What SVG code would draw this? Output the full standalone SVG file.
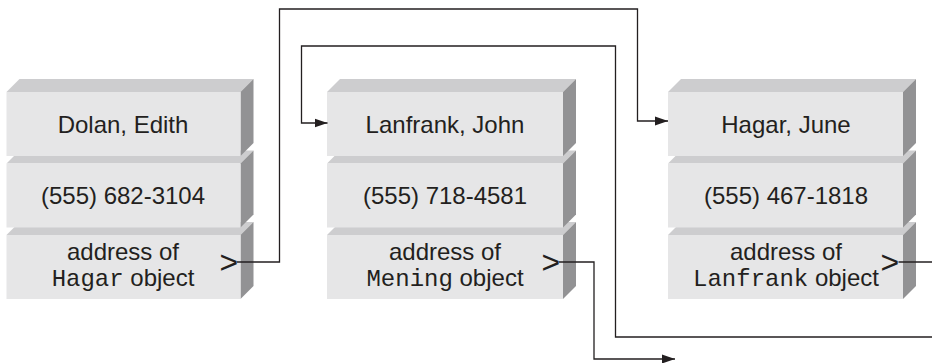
<svg xmlns="http://www.w3.org/2000/svg" width="932" height="363" viewBox="0 0 932 363">
  <style>
    .top { fill: #cdcdcf; }
    .front { fill: #e6e6e7; }
    .side { fill: #929294; }
    .t { font-family: "Liberation Sans", Arial, sans-serif; font-size: 24px; fill: #231f20; text-anchor: middle; }
    .m { font-family: "Liberation Mono", "Courier New", monospace; }
    .ptr { font-family: "Liberation Sans", Arial, sans-serif; font-size: 32px; fill: #231f20; }
    .conn { fill: none; stroke: #231f20; stroke-width: 1.3; }
  </style>
  <defs>
    <marker id="arrow" markerUnits="userSpaceOnUse" markerWidth="14" markerHeight="10" refX="13" refY="5" orient="auto">
      <path d="M0,0.5 L13,5 L0,9.5 Z" fill="#231f20"/>
    </marker>
  </defs>

  <!-- Column 1: Dolan, Edith -->
  <g id="dolan">
    <g id="dolan-address">
      <polygon class="top" points="6.5,235 19.5,222 253.5,222 240.5,235"/>
      <polygon class="side" points="240.5,235 253.5,222 253.5,286 240.5,299"/>
      <rect class="front" x="6.5" y="235" width="234" height="64"/>
      <text class="t" x="123" y="260">address of</text>
      <text class="t" x="123" y="285.5"><tspan class="m">Hagar</tspan> object</text>
      <text class="ptr" x="219.5" y="273.2">&gt;</text>
    </g>
    <g id="dolan-phone">
      <polygon class="top" points="6.5,163.5 19.5,150.5 253.5,150.5 240.5,163.5"/>
      <polygon class="side" points="240.5,163.5 253.5,150.5 253.5,214.5 240.5,227.5"/>
      <rect class="front" x="6.5" y="163.5" width="234" height="64"/>
      <text class="t" x="123" y="203.6">(555) 682-3104</text>
    </g>
    <g id="dolan-name">
      <polygon class="top" points="6.5,92 19.5,79 253.5,79 240.5,92"/>
      <polygon class="side" points="240.5,92 253.5,79 253.5,143 240.5,156"/>
      <rect class="front" x="6.5" y="92" width="234" height="64"/>
      <text class="t" x="123" y="132.8">Dolan, Edith</text>
    </g>
  </g>

  <!-- Column 2: Lanfrank, John -->
  <g id="lanfrank">
    <g id="lanfrank-address">
      <polygon class="top" points="327,235 340,222 576,222 563,235"/>
      <polygon class="side" points="563,235 576,222 576,286 563,299"/>
      <rect class="front" x="327" y="235" width="236" height="64"/>
      <text class="t" x="445" y="260">address of</text>
      <text class="t" x="445" y="285.5"><tspan class="m">Mening</tspan> object</text>
      <text class="ptr" x="541.5" y="273.2">&gt;</text>
    </g>
    <g id="lanfrank-phone">
      <polygon class="top" points="327,163.5 340,150.5 576,150.5 563,163.5"/>
      <polygon class="side" points="563,163.5 576,150.5 576,214.5 563,227.5"/>
      <rect class="front" x="327" y="163.5" width="236" height="64"/>
      <text class="t" x="445" y="203.6">(555) 718-4581</text>
    </g>
    <g id="lanfrank-name">
      <polygon class="top" points="327,92 340,79 576,79 563,92"/>
      <polygon class="side" points="563,92 576,79 576,143 563,156"/>
      <rect class="front" x="327" y="92" width="236" height="64"/>
      <text class="t" x="445" y="132.8">Lanfrank, John</text>
    </g>
  </g>

  <!-- Column 3: Hagar, June -->
  <g id="hagar">
    <g id="hagar-address">
      <polygon class="top" points="668,235 681,222 916,222 903,235"/>
      <polygon class="side" points="903,235 916,222 916,286 903,299"/>
      <rect class="front" x="668" y="235" width="235" height="64"/>
      <text class="t" x="786" y="260">address of</text>
      <text class="t" x="786" y="285.5"><tspan class="m">Lanfrank</tspan> object</text>
      <text class="ptr" x="880.5" y="273.2">&gt;</text>
    </g>
    <g id="hagar-phone">
      <polygon class="top" points="668,163.5 681,150.5 916,150.5 903,163.5"/>
      <polygon class="side" points="903,163.5 916,150.5 916,214.5 903,227.5"/>
      <rect class="front" x="668" y="163.5" width="235" height="64"/>
      <text class="t" x="786" y="203.6">(555) 467-1818</text>
    </g>
    <g id="hagar-name">
      <polygon class="top" points="668,92 681,79 916,79 903,92"/>
      <polygon class="side" points="903,92 916,79 916,143 903,156"/>
      <rect class="front" x="668" y="92" width="235" height="64"/>
      <text class="t" x="786" y="132.8">Hagar, June</text>
    </g>
  </g>

  <!-- Connectors -->
  <g id="connectors">
    <path class="conn" d="M237,262 H279.5 V9 H637.5 V121 H668" marker-end="url(#arrow)"/>
    <path class="conn" d="M898.5,262 H932"/>
    <path class="conn" d="M932,337 H615.5 V46 H301.5 V123 H327.5" marker-end="url(#arrow)"/>
    <path class="conn" d="M559,262 H594 V359 H675" marker-end="url(#arrow)"/>
  </g>
</svg>
